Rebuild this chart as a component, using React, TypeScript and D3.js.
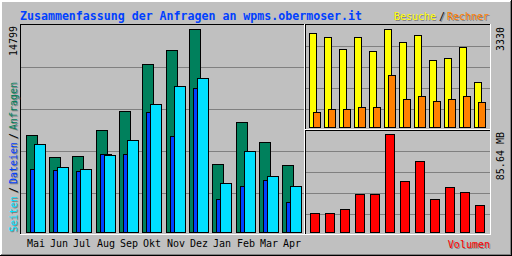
import React from "react";
import * as d3 from "d3";

const months = ["Mai", "Jun", "Jul", "Aug", "Sep", "Okt", "Nov", "Dez", "Jan", "Feb", "Mar", "Apr"];
const anfragen = [7049, 5446, 5519, 7414, 8799, 12247, 13268, 14799, 4935, 7997, 6583, 4862];
const dateien = [4571, 4498, 4425, 5664, 5686, 8748, 6998, 10498, 2384, 3332, 3769, 2165];
const seiten = [6393, 4739, 4593, 5613, 6685, 9331, 10643, 11227, 3572, 5883, 4061, 3332];
const besuche = [3184, 3048, 2640, 3048, 2572, 3330, 2878, 3116, 2266, 2334, 2708, 1519];
const rechner = [500, 601, 601, 669, 669, 1757, 941, 1043, 873, 941, 1043, 839];
const volumen = [16.34, 16.34, 19.84, 32.95, 32.95, 85.64, 44.31, 61.78, 28.58, 39.06, 34.69, 23.33];

const C = {
  bg: "#c0c0c0",
  grid: "#808080",
  hit: "#00805c",
  file: "#0040ff",
  page: "#00e0ff",
  visit: "#ffff00",
  site: "#ff8000",
  kbyte: "#ff0000",
  title: "#0040ff",
};
const MONO = "'DejaVu Sans Mono', 'Liberation Mono', monospace";

function PxRect({ x1, y1, x2, y2, fill }: { x1: number; y1: number; x2: number; y2: number; fill: string }) {
  return <rect x={x1 + 0.5} y={y1 + 0.5} width={x2 - x1} height={y2 - y1} fill={fill} stroke="#000" strokeWidth={1} />;
}
function HLine({ y, x1, x2, c }: { y: number; x1: number; x2: number; c: string }) {
  return <line x1={x1} x2={x2 + 1} y1={y + 0.5} y2={y + 0.5} stroke={c} strokeWidth={1} />;
}
function VLine({ x, y1, y2, c }: { x: number; y1: number; y2: number; c: string }) {
  return <line x1={x + 0.5} x2={x + 0.5} y1={y1} y2={y2 + 1} stroke={c} strokeWidth={1} />;
}
function Shadowed({ x, y, color, children, anchor = "start", size = 10, rotate = false }: any) {
  const t = (dx: number, dy: number) =>
    rotate ? `translate(${x + dx},${y + dy}) rotate(-90)` : `translate(${x + dx},${y + dy})`;
  return (
    <g fontFamily={MONO} fontSize={size} textAnchor={anchor}>
      <text transform={t(1, 1)} fill="#808080">{children}</text>
      <text transform={t(0, 0)} fill={color}>{children}</text>
    </g>
  );
}

export default function App() {
  const maxHits = d3.max(anfragen)!;
  const maxVisits = d3.max(besuche)!;
  const maxVol = d3.max(volumen)!;

  const xMain = d3.scaleBand<string>().domain(months).range([26, 26 + (12 * 70) / 3]);
  const yMain = d3.scaleLinear().domain([0, maxHits]).range([232, 29]);
  const xRight = d3.scaleBand<string>().domain(months).range([309, 309 + 180]);
  const yUp = d3.scaleLinear().domain([0, maxVisits]).range([127, 29]);
  const yLow = d3.scaleLinear().domain([0, maxVol]).range([232, 134]);

  const gx = (m: string) => Math.floor(xMain(m)!);
  const rx = (m: string) => Math.round(xRight(m)!);

  const gridMain = d3.range(1, 5).map((i) => 25 + 42 * i);
  const gridUp = d3.range(1, 5).map((i) => 25 + 21 * i);
  const gridLow = d3.range(1, 5).map((i) => 130 + 21 * i);

  return (
    <svg width={512} height={256} style={{ position: "fixed", left: 0, top: 0 }} shapeRendering="crispEdges">
      <rect x={0} y={0} width={512} height={256} fill={C.bg} />
      {/* outer frame */}
      <HLine y={0} x1={0} x2={511} c="#fff" />
      <HLine y={1} x1={0} x2={510} c="#fff" />
      <VLine x={0} y1={0} y2={255} c="#fff" />
      <VLine x={1} y1={0} y2={254} c="#fff" />
      <VLine x={510} y1={1} y2={254} c="#808080" />
      <VLine x={511} y1={0} y2={255} c="#000" />
      <HLine y={254} x1={1} x2={510} c="#808080" />
      <HLine y={255} x1={0} x2={511} c="#000" />

      {/* panels */}
      <HLine y={24} x1={20} x2={304} c="#000" />
      <VLine x={20} y1={24} y2={234} c="#000" />
      <VLine x={304} y1={24} y2={234} c="#fff" />
      <HLine y={234} x1={20} x2={304} c="#fff" />

      <HLine y={24} x1={305} x2={490} c="#000" />
      <VLine x={305} y1={24} y2={129} c="#000" />
      <VLine x={490} y1={24} y2={129} c="#fff" />
      <HLine y={129} x1={305} x2={490} c="#fff" />

      <HLine y={130} x1={305} x2={490} c="#000" />
      <VLine x={305} y1={130} y2={234} c="#000" />
      <VLine x={490} y1={130} y2={234} c="#fff" />
      <HLine y={234} x1={305} x2={490} c="#fff" />

      {/* grid */}
      {gridMain.map((y) => <HLine key={"gm" + y} y={y} x1={21} x2={303} c={C.grid} />)}
      {gridUp.map((y) => <HLine key={"gu" + y} y={y} x1={306} x2={489} c={C.grid} />)}
      {gridLow.map((y) => <HLine key={"gl" + y} y={y} x1={306} x2={489} c={C.grid} />)}

      {/* main bars */}
      {months.map((m, i) => {
        const g = gx(m);
        return (
          <g key={"mb" + m}>
            <PxRect x1={g} x2={g + 11} y1={Math.round(yMain(anfragen[i]))} y2={232} fill={C.hit} />
            <PxRect x1={g + 4} x2={g + 15} y1={Math.round(yMain(dateien[i]))} y2={232} fill={C.file} />
            <PxRect x1={g + 8} x2={g + 19} y1={Math.round(yMain(seiten[i]))} y2={232} fill={C.page} />
          </g>
        );
      })}

      {/* visits / sites */}
      {months.map((m, i) => {
        const p = rx(m);
        return (
          <g key={"vb" + m}>
            <PxRect x1={p} x2={p + 7} y1={Math.round(yUp(besuche[i]))} y2={127} fill={C.visit} />
            <PxRect x1={p + 4} x2={p + 11} y1={Math.round(yUp(rechner[i]))} y2={127} fill={C.site} />
          </g>
        );
      })}

      {/* volume */}
      {months.map((m, i) => {
        const p = rx(m) + 1;
        return <PxRect key={"kb" + m} x1={p} x2={p + 9} y1={Math.round(yLow(volumen[i]))} y2={232} fill={C.kbyte} />;
      })}

      {/* title */}
      <text x={20} y={20} fontFamily={MONO} fontWeight="bold" fontSize={11.6} fill={C.title}>
        Zusammenfassung der Anfragen an wpms.obermoser.it
      </text>

      {/* month labels */}
      {months.map((m) => (
        <text key={"ml" + m} x={gx(m) + 10} y={247} fontFamily={MONO} fontSize={10} textAnchor="middle" fill="#000">
          {m}
        </text>
      ))}

      {/* max labels */}
      <text transform="translate(17,26) rotate(-90)" fontFamily={MONO} fontSize={10} textAnchor="end" fill="#000">
        {String(maxHits)}
      </text>
      <text transform="translate(504,27) rotate(-90)" fontFamily={MONO} fontSize={10} textAnchor="end" fill="#000">
        {String(maxVisits)}
      </text>
      <text transform="translate(504,132) rotate(-90)" fontFamily={MONO} fontSize={10} textAnchor="end" fill="#000">
        {maxVol.toFixed(2) + " MB"}
      </text>

      {/* vertical legend */}
      <Shadowed x={17} y={232} color={C.page} rotate>Seiten</Shadowed>
      <Shadowed x={17} y={193} color="#000" rotate>/</Shadowed>
      <Shadowed x={17} y={184} color={C.file} rotate>Dateien</Shadowed>
      <Shadowed x={17} y={139} color="#000" rotate>/</Shadowed>
      <Shadowed x={17} y={130} color={C.hit} rotate>Anfragen</Shadowed>

      {/* right legends */}
      <Shadowed x={394} y={20} color={C.visit}>Besuche</Shadowed>
      <Shadowed x={439} y={20} color="#000">/</Shadowed>
      <Shadowed x={447} y={20} color={C.site}>Rechner</Shadowed>
      <Shadowed x={490} y={248} color={C.kbyte} anchor="end">Volumen</Shadowed>
    </svg>
  );
}
